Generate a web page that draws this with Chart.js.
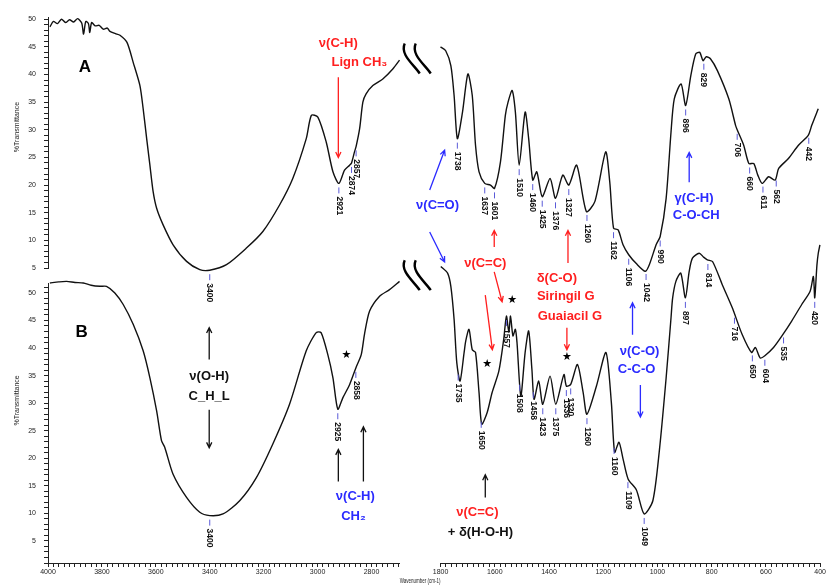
<!DOCTYPE html>
<html>
<head>
<meta charset="utf-8">
<script src="https://cdn.jsdelivr.net/npm/chart.js@4.4.1/dist/chart.umd.min.js"></script>
<style>
  html, body { margin: 0; background: #fff; }
  canvas { display: block; }
</style>
</head>
<body>
<canvas id="ftir" width="827" height="586"></canvas>
<script>
// spectrum A, 4000-2700 cm-1
const waveAL = [3993, 3980, 3965, 3950, 3935, 3920, 3905, 3890, 3875, 3868, 3860, 3850, 3845, 3838, 3825, 3810, 3795, 3780, 3770, 3750, 3733, 3707, 3684, 3659, 3647, 3634, 3622, 3610, 3597, 3573, 3536, 3486, 3437, 3400, 3338, 3264, 3203, 3141, 3092, 3042, 3023, 2999, 2968, 2943, 2921, 2900, 2881, 2874, 2863, 2857, 2844, 2832, 2820, 2795, 2758, 2721, 2696];
const transAL = [48.6, 49.6, 49.2, 50.0, 49.4, 49.9, 49.5, 50.1, 49.3, 47.3, 49.6, 49.2, 47.6, 49.4, 48.8, 48.9, 48.2, 48.4, 47.8, 47.4, 47.1, 45.8, 42.2, 38.0, 33.8, 28.4, 23.6, 18.8, 15.8, 12.8, 9.2, 6.2, 4.7, 4.6, 5.6, 8.6, 11.6, 16.4, 21.2, 28.4, 32.6, 32.3, 27.8, 22.4, 20.3, 22.7, 23.6, 24.0, 26.0, 27.0, 30.2, 35.0, 36.5, 38.0, 39.2, 41.0, 42.6];

// spectrum A, 1800-400 cm-1
const waveAR = [1800, 1781, 1762, 1750, 1738, 1719, 1699, 1683, 1671, 1658, 1637, 1616, 1601, 1579, 1561, 1551, 1536, 1524, 1510, 1488, 1475, 1460, 1445, 1425, 1396, 1376, 1349, 1327, 1298, 1262, 1231, 1191, 1176, 1162, 1145, 1127, 1106, 1078, 1045, 1030, 1005, 990, 968, 950, 938, 913, 896, 877, 859, 844, 832, 820, 804, 779, 737, 712, 706, 682, 663, 645, 630, 614, 590, 566, 553, 517, 480, 444, 431, 407];
const transAR = [45.0, 44.3, 41.6, 36.2, 28.4, 33.2, 40.1, 36.2, 27.2, 22.4, 20.3, 20.0, 19.4, 24.2, 32.6, 35.0, 37.1, 33.2, 23.6, 33.2, 28.4, 20.9, 22.4, 17.9, 21.2, 17.6, 21.8, 20.0, 23.6, 15.2, 17.0, 26.0, 20.6, 12.2, 11.9, 9.2, 7.4, 5.8, 4.4, 5.6, 9.2, 10.7, 17.6, 29.6, 35.6, 38.3, 34.4, 39.8, 43.7, 44.0, 42.5, 43.2, 42.8, 40.7, 35.6, 30.8, 30.0, 27.2, 23.9, 23.9, 21.8, 20.3, 21.5, 20.9, 23.0, 24.8, 27.2, 29.0, 30.8, 33.8];

// spectrum B, 4000-2700 cm-1
const waveBL = [3993, 3960, 3931, 3900, 3869, 3840, 3807, 3783, 3752, 3721, 3684, 3647, 3622, 3597, 3579, 3567, 3536, 3486, 3437, 3400, 3351, 3289, 3227, 3166, 3104, 3042, 3005, 2987, 2962, 2943, 2925, 2906, 2881, 2858, 2838, 2826, 2807, 2770, 2733, 2696];
const transBL = [51.8, 52.0, 52.1, 51.9, 51.8, 51.4, 51.2, 51.2, 50.0, 47.9, 44.3, 39.5, 34.6, 28.6, 23.2, 22.0, 17.1, 12.9, 10.2, 9.6, 9.9, 12.3, 16.5, 22.6, 29.8, 39.5, 42.8, 42.8, 38.8, 34.6, 28.9, 31.0, 33.4, 36.4, 38.8, 42.5, 46.7, 49.4, 50.6, 52.1];

// spectrum B, 1800-400 cm-1
const waveBR = [1799, 1774, 1762, 1750, 1740, 1728, 1713, 1707, 1695, 1683, 1671, 1658, 1648, 1628, 1610, 1585, 1567, 1557, 1548, 1542, 1533, 1524, 1518, 1504, 1488, 1475, 1463, 1455, 1438, 1423, 1396, 1375, 1345, 1336, 1320, 1295, 1274, 1260, 1225, 1190, 1170, 1158, 1142, 1127, 1108, 1078, 1049, 1017, 993, 968, 950, 944, 932, 914, 897, 883, 871, 846, 830, 816, 797, 761, 724, 688, 653, 639, 621, 604, 572, 541, 505, 468, 437, 425, 420, 412, 407, 401];
const transBR = [54.8, 53.6, 51.2, 45.2, 37.3, 34.0, 39.2, 41.3, 43.4, 39.7, 39.2, 31.9, 26.2, 28.3, 31.9, 35.8, 41.6, 45.8, 42.8, 45.8, 42.2, 43.4, 41.0, 31.3, 39.2, 43.1, 36.1, 30.7, 34.0, 29.8, 34.9, 29.8, 35.2, 33.1, 33.4, 37.0, 31.9, 28.0, 33.1, 39.2, 30.1, 21.1, 22.9, 19.9, 16.2, 14.3, 9.9, 12.3, 21.4, 34.6, 45.5, 49.1, 52.1, 53.6, 49.1, 53.9, 56.3, 57.2, 56.5, 56.0, 55.7, 51.5, 47.3, 42.5, 39.2, 40.1, 38.2, 38.6, 40.1, 42.2, 44.9, 47.9, 50.3, 53.0, 49.1, 55.0, 57.2, 58.7];

// labelled band positions
const peaksA = [3400, 2921, 2874, 2857, 1738, 1637, 1601, 1510, 1460, 1425, 1376, 1327, 1260, 1162, 1106, 1042, 990, 896, 829, 706, 660, 611, 562, 442];
const peaksB = [3400, 2925, 2858, 1735, 1650, 1557, 1508, 1458, 1423, 1375, 1336, 1320, 1260, 1160, 1109, 1049, 897, 814, 716, 650, 604, 535, 420];

const red = '#ff1f1f', blue = '#2b2bff', black = '#111';

// band assignments: text, wavenumber, %T, panel, colour, size
const notes = [
  ['A', 3863, 41.3, 'T', '#000', 17],
  ['B', 3875, 42.9, 'B', '#000', 17],
  ['ν(C-H)', 2923, 45.7, 'T', red, 13],
  ['Lign CH₃', 2845, 42.2, 'T', red, 13],
  ['ν(O-H)', 3402, 34.8, 'B', black, 13],
  ['C_H_L', 3402, 31.2, 'B', black, 13],
  ['ν(C-H)', 2860, 13.0, 'B', blue, 13],
  ['CH₂', 2867, 9.4, 'B', blue, 13],
  ['ν(C=O)', 1811, 16.4, 'T', blue, 13],
  ['ν(C=C)', 1635, 5.9, 'T', red, 13],
  ['δ(C-O)', 1371, 52.7, 'B', red, 13],
  ['Siringil G', 1338, 49.3, 'B', red, 13],
  ['Guaiacil G', 1323, 45.7, 'B', red, 13],
  ['ν(C-O)', 1066, 39.3, 'B', blue, 13],
  ['C-C-O', 1077, 36.1, 'B', blue, 13],
  ['γ(C-H)', 865, 17.6, 'T', blue, 13],
  ['C-O-CH', 857, 14.6, 'T', blue, 13],
  ['ν(C=C)', 1664, 10.1, 'B', red, 13],
  ['+ δ(H-O-H)', 1653, 6.5, 'B', black, 13]
];

// arrows: from (w, %T, panel) to (w, %T, panel)
const arrows = [
  [2923, 39.5, 'T', 2923, 25.0, 'T', red],
  [3402, 37.9, 'B', 3402, 43.7, 'B', black],
  [3402, 28.8, 'B', 3402, 21.9, 'B', black],
  [2923, 15.8, 'B', 2923, 21.6, 'B', black],
  [2830, 15.8, 'B', 2830, 25.7, 'B', black],
  [1840, 19.1, 'T', 1785, 26.3, 'T', blue],
  [1840, 11.5, 'T', 1785, 6.1, 'T', blue],
  [1602, 8.8, 'T', 1602, 11.8, 'T', red],
  [1602, 4.3, 'T', 1573, 48.4, 'B', red],
  [1635, 49.6, 'B', 1609, 39.7, 'B', red],
  [1330, 5.9, 'T', 1330, 11.8, 'T', red],
  [1334, 43.7, 'B', 1334, 39.7, 'B', red],
  [1092, 42.4, 'B', 1092, 48.2, 'B', blue],
  [1063, 33.3, 'B', 1063, 27.5, 'B', blue],
  [883, 20.5, 'T', 883, 25.9, 'T', blue],
  [1635, 12.9, 'B', 1635, 17.0, 'B', black]
];

const stars = [[2893, 38.8, 'B'], [1536, 48.7, 'B'], [1628, 37.0, 'B'], [1334, 38.4, 'B']];

// axis break marks (position along the gap scale, %T on the top scale)
const breaks = [[0.44, 42.9], [0.44, 3.7]];

const tickFont = { family: 'Liberation Sans', size: 7 };

function xOf(chart, w) {
  return (w > 2000 ? chart.scales.xL : chart.scales.xR).getPixelForValue(w);
}
function yOf(chart, v, p) {
  return (p === 'B' ? chart.scales.yB : chart.scales.yT).getPixelForValue(v);
}
function valueAt(ws, ts, w) {
  for (let i = 0; i < ws.length - 1; i++) {
    if ((ws[i] - w) * (ws[i + 1] - w) <= 0) {
      const f = (w - ws[i]) / (ws[i + 1] - ws[i]);
      return ts[i] + f * (ts[i + 1] - ts[i]);
    }
  }
  return ts[ts.length - 1];
}

function drawArrow(ctx, x1, y1, x2, y2, color) {
  const a = Math.atan2(y2 - y1, x2 - x1), h = 6;
  ctx.strokeStyle = color;
  ctx.lineWidth = 1.3;
  ctx.beginPath();
  ctx.moveTo(x1, y1); ctx.lineTo(x2, y2);
  ctx.moveTo(x2 - h * Math.cos(a - 0.45), y2 - h * Math.sin(a - 0.45));
  ctx.lineTo(x2, y2);
  ctx.lineTo(x2 - h * Math.cos(a + 0.45), y2 - h * Math.sin(a + 0.45));
  ctx.stroke();
}

const annotations = {
  id: 'annotations',
  afterDraw(chart) {
    const ctx = chart.ctx;
    ctx.save();

    // y titles
    ctx.fillStyle = '#222';
    ctx.font = '7px "Liberation Sans"';
    ctx.textAlign = 'center';
    ctx.textBaseline = 'middle';
    ['T', 'B'].forEach(p => {
      ctx.save();
      ctx.translate(17, yOf(chart, 30.5, p));
      ctx.rotate(-Math.PI / 2);
      ctx.fillText('%Transmittance', 0, 0);
      ctx.restore();
    });

    // band position labels
    const sets = [
      [peaksA, 'T', waveAL, transAL, waveAR, transAR],
      [peaksB, 'B', waveBL, transBL, waveBR, transBR]
    ];
    ctx.font = 'bold 8.5px "Liberation Sans"';
    sets.forEach(([peaks, p, wl, tl, wr, tr]) => {
      peaks.forEach(w => {
        const v = w > 2000 ? valueAt(wl, tl, w) : valueAt(wr, tr, w);
        const x = xOf(chart, w), y = yOf(chart, v, p);
        ctx.strokeStyle = '#5a5ad8';
        ctx.lineWidth = 1;
        ctx.beginPath();
        ctx.moveTo(x, y + 4); ctx.lineTo(x, y + 10);
        ctx.stroke();
        ctx.save();
        ctx.translate(x, y + 13);
        ctx.rotate(Math.PI / 2);
        ctx.fillStyle = '#111';
        ctx.textAlign = 'left';
        ctx.textBaseline = 'middle';
        ctx.fillText(String(w), 0, 0);
        ctx.restore();
      });
    });

    // assignments
    ctx.textAlign = 'center';
    ctx.textBaseline = 'middle';
    notes.forEach(([t, w, v, p, c, s]) => {
      ctx.fillStyle = c;
      ctx.font = 'bold ' + s + 'px "Liberation Sans"';
      ctx.fillText(t, xOf(chart, w), yOf(chart, v, p));
    });

    arrows.forEach(([w1, v1, p1, w2, v2, p2, c]) => {
      drawArrow(ctx, xOf(chart, w1), yOf(chart, v1, p1), xOf(chart, w2), yOf(chart, v2, p2), c);
    });

    ctx.fillStyle = '#000';
    ctx.font = '11px "DejaVu Sans"';
    stars.forEach(([w, v, p]) => ctx.fillText('★', xOf(chart, w), yOf(chart, v, p)));

    // broken axis marks
    ctx.strokeStyle = '#000';
    ctx.lineWidth = 2.4;
    breaks.forEach(([g, v]) => {
      const cx = chart.scales.xGap.getPixelForValue(g), cy = yOf(chart, v, 'T');
      [-6, 5].forEach(dx => {
        ctx.beginPath();
        ctx.moveTo(cx + dx - 7, cy - 15);
        ctx.bezierCurveTo(cx + dx - 12, cy - 4, cx + dx + 2, cy + 6, cx + dx + 8, cy + 15);
        ctx.stroke();
      });
    });

    ctx.restore();
  }
};

const line = (ws, ts, xAxisID, yAxisID) => ({
  data: ws.map((w, i) => ({ x: w, y: ts[i] })),
  xAxisID, yAxisID,
  borderColor: '#111',
  borderWidth: 1.4,
  pointRadius: 0,
  tension: 0.25,
  fill: false,
  clip: false
});

const xAxis = (min, max, weight) => ({
  type: 'linear', position: 'bottom', stack: 'wn', stackWeight: weight,
  reverse: true, min, max,
  ticks: {
    stepSize: 20, autoSkip: false, maxRotation: 0, includeBounds: false,
    padding: 1, color: '#222', font: tickFont,
    callback: v => (v % 200 === 0 ? String(v) : '')
  },
  grid: { drawOnChartArea: false, tickLength: 4, color: '#222' },
  border: { color: '#222' },
  afterFit: s => { s.height = 23; }
});

const yAxis = (min, max, weight) => ({
  type: 'linear', position: 'left', stack: 'tr', stackWeight: weight,
  min, max,
  ticks: {
    stepSize: 1, autoSkip: false, includeBounds: false,
    padding: 8, color: '#222', font: tickFont,
    callback: v => (Math.abs(v % 5) < 1e-6 ? String(v) : '')
  },
  grid: { drawOnChartArea: false, tickLength: 4, color: '#222' },
  border: { color: '#222' },
  afterFit: s => { s.width = 48; }
});

const gapAxis = (position, stack, weight, extra) => Object.assign({
  type: 'linear', position, stack, stackWeight: weight, min: 0, max: 1,
  ticks: { display: false },
  grid: { display: false },
  border: { display: false },
  afterFit: s => { if (position === 'bottom') s.height = 23; else s.width = 48; }
}, extra);

new Chart(document.getElementById('ftir'), {
  type: 'line',
  data: {
    datasets: [
      line(waveAL, transAL, 'xL', 'yT'),
      line(waveAR, transAR, 'xR', 'yT'),
      line(waveBL, transBL, 'xL', 'yB'),
      line(waveBR, transBR, 'xR', 'yB')
    ]
  },
  options: {
    responsive: false,
    animation: false,
    devicePixelRatio: 1,
    layout: { padding: { top: 17, right: 2, left: 0, bottom: 0 } },
    plugins: { legend: { display: false }, tooltip: { enabled: false } },
    scales: {
      xL: xAxis(2695, 4000, 354),
      xGap: gapAxis('bottom', 'wn', 41, {
        title: { display: true, text: 'Wavenumber (cm-1)', color: '#222', font: { family: 'Liberation Sans', size: 8 }, padding: 0 }
      }),
      xR: xAxis(400, 1800, 382),
      yB: yAxis(1, 51.8, 280),
      yGap: gapAxis('left', 'tr', 15),
      yT: yAxis(5, 50.4, 251)
    }
  },
  plugins: [annotations]
});
</script>
</body>
</html>
